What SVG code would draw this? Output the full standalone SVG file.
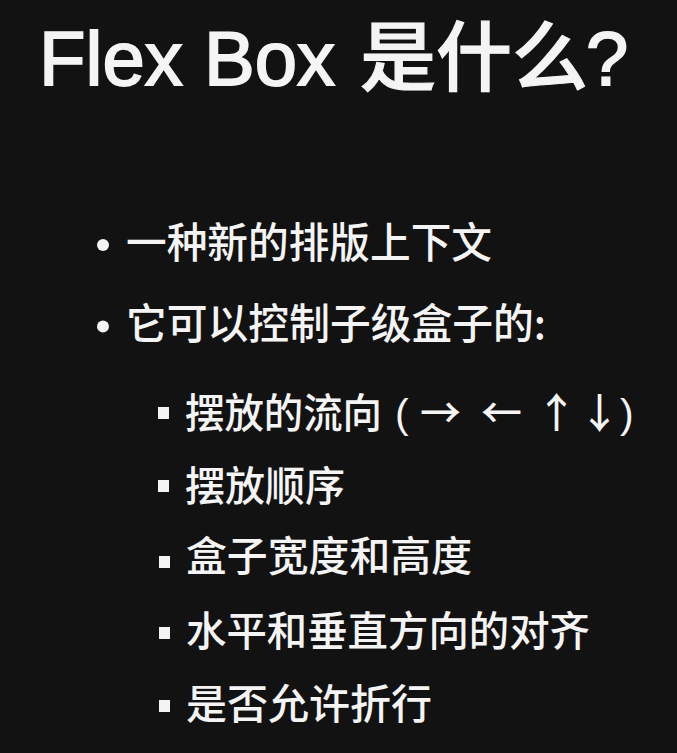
<svg xmlns="http://www.w3.org/2000/svg" width="677" height="753" viewBox="0 0 677 753">
<style>
.t{fill:#f4f4f4;font-family:"Noto Sans CJK SC","Liberation Sans",sans-serif;font-weight:500;}
.title{font-family:"Liberation Sans","Noto Sans CJK SC",sans-serif;font-size:76px;font-weight:400;stroke:#f4f4f4;stroke-width:1.8px;}
.tc{font-family:"Noto Sans CJK SC",sans-serif;font-weight:500;stroke-width:1.2px;}
.b{font-size:42px;}
.s{font-size:41px;}
.dot{fill:#f4f4f4;}
</style>
<rect width="677" height="753" fill="#121212"/>
<g id="title">
<text class="t title" x="39" y="85" textLength="296" lengthAdjust="spacingAndGlyphs">Flex Box</text>
<text class="t title tc" x="360" y="85">是什么</text>
<text class="t title" x="586" y="85">?</text>
</g>
<g id="bullet1">
<circle class="dot" cx="103" cy="245" r="6"/>
<text class="t b" x="126" y="258" textLength="366" lengthAdjust="spacingAndGlyphs">一种新的排版上下文</text>
</g>
<g id="bullet2">
<circle class="dot" cx="103" cy="326.5" r="6"/>
<text class="t b" x="126" y="339" textLength="420" lengthAdjust="spacingAndGlyphs">它可以控制子级盒子的:</text>
</g>
<g id="sub1">
<rect class="dot" x="158" y="407" width="11" height="12"/>
<text class="t s" x="185" y="428" textLength="197" lengthAdjust="spacingAndGlyphs">摆放的流向</text>
<text class="t s" y="428"><tspan x="395" font-family="Liberation Sans" font-weight="400">(</tspan><tspan x="420">→</tspan><tspan x="481">←</tspan><tspan x="536">↑</tspan><tspan x="579">↓</tspan><tspan x="620" font-family="Liberation Sans" font-weight="400">)</tspan></text>
</g>
<g id="sub2">
<rect class="dot" x="158" y="480" width="11" height="12"/>
<text class="t s" x="185" y="501" textLength="160" lengthAdjust="spacingAndGlyphs">摆放顺序</text>
</g>
<g id="sub3">
<rect class="dot" x="159" y="556" width="11" height="12"/>
<text class="t s" x="186" y="571" textLength="286" lengthAdjust="spacingAndGlyphs">盒子宽度和高度</text>
</g>
<g id="sub4">
<rect class="dot" x="159" y="627" width="11" height="12"/>
<text class="t s" x="186" y="646" textLength="404" lengthAdjust="spacingAndGlyphs">水平和垂直方向的对齐</text>
</g>
<g id="sub5">
<rect class="dot" x="159" y="700" width="11" height="12"/>
<text class="t s" x="186" y="719" textLength="246" lengthAdjust="spacingAndGlyphs">是否允许折行</text>
</g>
</svg>
